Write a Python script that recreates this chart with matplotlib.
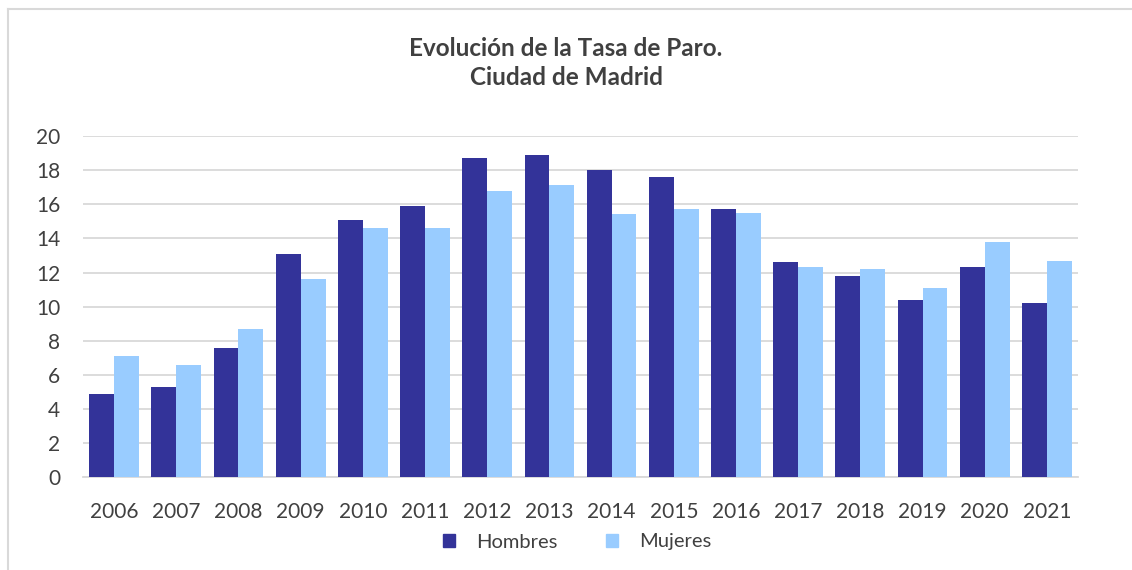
import matplotlib
matplotlib.use("Agg")
import matplotlib.pyplot as plt
import numpy as np
from matplotlib.lines import Line2D
from matplotlib.patches import Patch

years = ["2006", "2007", "2008", "2009", "2010", "2011", "2012", "2013",
         "2014", "2015", "2016", "2017", "2018", "2019", "2020", "2021"]
hombres = [4.9, 5.3, 7.6, 13.1, 15.1, 15.9, 18.7, 18.9,
           18.0, 17.6, 15.7, 12.6, 11.8, 10.4, 12.3, 10.2]
mujeres = [7.1, 6.6, 8.7, 11.6, 14.6, 14.6, 16.8, 17.1,
           15.4, 15.7, 15.5, 12.3, 12.2, 11.1, 13.8, 12.7]
series_names = ["Hombres", "Mujeres"]
title = "Evolución de la Tasa de Paro.\nCiudad de Madrid"

c_h = "#333399"
c_m = "#99CCFF"
txt = "#404040"

plt.rcParams['font.family'] = ['Lato', 'DejaVu Sans']

W, H = 1132, 570
fig = plt.figure(figsize=(W/100, H/100), dpi=100)
ax = fig.add_axes([83/W, 1 - 477.3/H, (1078-83)/W, (477.3-136)/H])

x = np.arange(len(years))
bw = 0.4
ax.bar(x - bw/2, hombres, bw, color=c_h, label=series_names[0], zorder=3)
ax.bar(x + bw/2, mujeres, bw, color=c_m, label=series_names[1], zorder=3)

ax.set_xlim(-0.5, len(years) - 0.5)
ax.set_ylim(0, 20)
ax.set_yticks(range(0, 21, 2))
ax.set_xticks(x)
ax.set_xticklabels(years)
ax.yaxis.grid(True, color="#D9D9D9", linewidth=1.3, zorder=0)
ax.set_axisbelow(True)
for s in ["top", "right", "left"]:
    ax.spines[s].set_visible(False)
ax.spines["bottom"].set_color("#D9D9D9")
ax.spines["bottom"].set_linewidth(1.3)
ax.tick_params(axis="both", length=0, labelsize=15, colors=txt)
ax.tick_params(axis="x", pad=18)
ax.tick_params(axis="y", pad=16.5)

fig.text(566/W, 1 - 63/H, title, ha="center", va="center", fontsize=17.5,
         fontweight="bold", color=txt, linespacing=1.3)

handles = [Patch(color=c_h), Patch(color=c_m)]
fig.legend(handles, series_names, loc="center", bbox_to_anchor=(577/W, 1 - 542/H),
           ncol=2, frameon=False, fontsize=14.5, labelcolor=txt,
           handlelength=0.6, handleheight=0.6, handletextpad=1.05, columnspacing=2.4)

# chart border (top and left visible)
fig.add_artist(Line2D([7.5/W, 7.5/W], [0, 1 - 8.5/H], transform=fig.transFigure,
                      color="#D9D9D9", linewidth=1.5))
fig.add_artist(Line2D([7.5/W, 1], [1 - 8.5/H, 1 - 8.5/H], transform=fig.transFigure,
                      color="#D9D9D9", linewidth=1.5))

fig.savefig("out.png", dpi=100, facecolor="white")
